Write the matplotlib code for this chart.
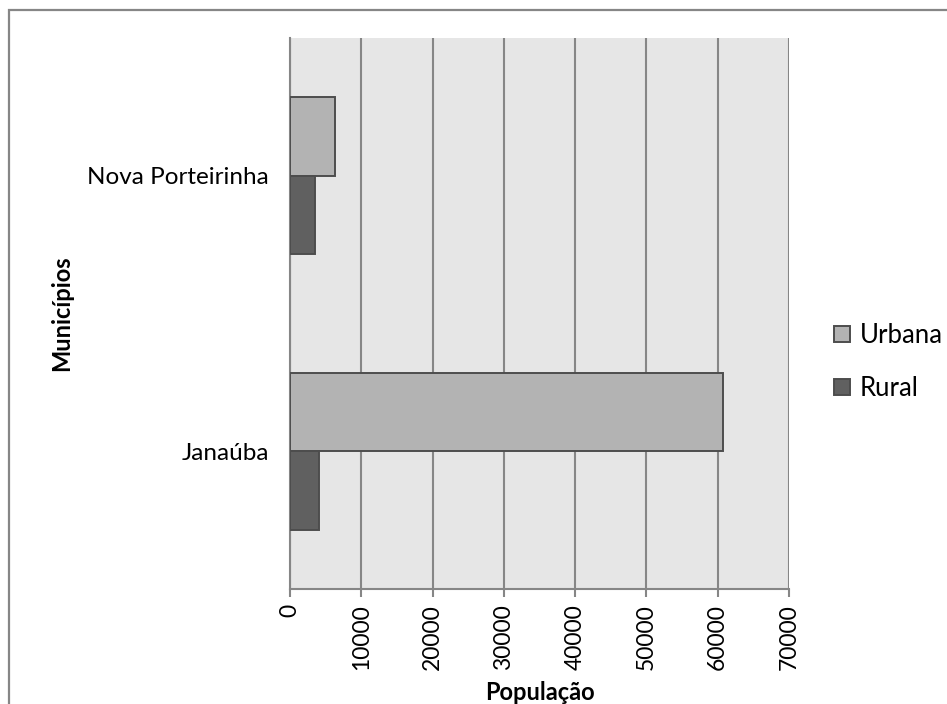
import numpy as np
import matplotlib
matplotlib.use("Agg")
import matplotlib.pyplot as plt
from matplotlib.patches import Rectangle

plt.rcParams["font.family"] = ["Lato", "DejaVu Sans"]

# Population by municipality (urban / rural)
municipios = ["Janaúba", "Nova Porteirinha"]
urbana = [60700, 6300]
rural = [4000, 3500]
series_names = ["Urbana", "Rural"]
x_ticks = [0, 10000, 20000, 30000, 40000, 50000, 60000, 70000]

fig = plt.figure(figsize=(9.47, 7.04), dpi=100)
ax = fig.add_axes([290 / 947, 1 - 589 / 704, 499 / 947, 551 / 704])

# outer chart border
fig.patches.append(Rectangle((8.5 / 947, -0.05), 1.1, 1 - 9.5 / 704 + 0.05,
                             transform=fig.transFigure, fill=False,
                             edgecolor="#868686", linewidth=1.6))

ax.set_facecolor("#e6e6e6")
y = np.arange(len(municipios))
h = 1 / 3.5
ax.barh(y + h / 2, urbana, height=h, color="#b3b3b3", edgecolor="#4d4d4d",
        linewidth=1.4, label=series_names[0], zorder=3)
ax.barh(y - h / 2, rural, height=h, color="#606060", edgecolor="#4d4d4d",
        linewidth=1.4, label=series_names[1], zorder=3)

ax.set_xlim(0, 70000)
ax.set_ylim(-0.5, 1.5)
ax.set_xticks(x_ticks)
ax.set_xticklabels([str(v) for v in x_ticks], rotation=90, fontsize=16.5)
ax.set_yticks(y)
ax.set_yticklabels(municipios, fontsize=17.5)
ax.tick_params(axis="y", length=0, pad=15)
ax.tick_params(axis="x", length=6, width=1.5, color="#868686", pad=5)
ax.grid(axis="x", color="#868686", linewidth=1.5, zorder=1)

for side in ["top", "right"]:
    ax.spines[side].set_visible(False)
for side in ["left", "bottom"]:
    ax.spines[side].set_color("#868686")
    ax.spines[side].set_linewidth(1.5)

ax.set_xlabel("População", fontsize=17, fontweight="bold")
ax.xaxis.set_label_coords(0.5, -(692 - 589) / 551, transform=ax.transAxes)
ax.xaxis.label.set_va("center")
ax.set_ylabel("Municípios", fontsize=17, fontweight="bold")
ax.yaxis.set_label_coords(-(290 - 62) / 499, 0.5)
ax.yaxis.label.set_va("center")

leg = fig.legend(loc="center left", bbox_to_anchor=(811 / 947, 1 - 362 / 704),
                 frameon=False, fontsize=18.5, handlelength=0.6, handleheight=0.6,
                 handletextpad=0.4, labelspacing=1.1)

plt.savefig("out.png", dpi=100)
